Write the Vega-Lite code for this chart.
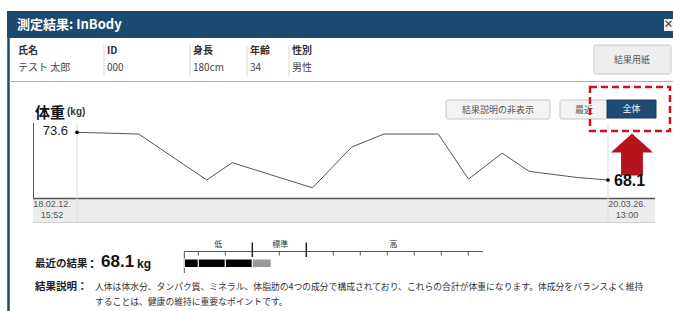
{
  "$schema": "https://vega.github.io/schema/vega-lite/v6.json",
  "width": 673,
  "height": 311,
  "autosize": {"type": "fit", "contains": "padding"},
  "padding": 0,
  "background": "#ffffff",
  "config": {"view": {"stroke": null}, "font": "Noto Sans CJK JP"},
  "resolve": {"scale": {"x": "independent", "y": "independent", "color": "independent"}},
  "layer": [
    {
      "data": {"values": [{}]},
      "layer": [
        {"mark": {"type": "rect", "fill": "#1c4a70"}, "encoding": {"x": {"value": 7}, "x2": {"value": 673}, "y": {"value": 11}, "y2": {"value": 38}}},
        {"mark": {"type": "text", "text": "測定結果: InBody", "align": "left", "baseline": "middle", "fontSize": 13, "fontWeight": "bold", "color": "#ffffff"}, "encoding": {"x": {"value": 17}, "y": {"value": 25}}},
        {"mark": {"type": "rect", "fill": "#f2f2f2"}, "encoding": {"x": {"value": 664}, "x2": {"value": 673}, "y": {"value": 19}, "y2": {"value": 31}}},
        {"mark": {"type": "text", "text": "×", "align": "center", "baseline": "middle", "fontSize": 10, "fontWeight": "bold", "color": "#333333"}, "encoding": {"x": {"value": 668.5}, "y": {"value": 25}}},
        {"mark": {"type": "rule", "color": "#1c4a70", "strokeWidth": 2.5}, "encoding": {"x": {"value": 8.5}, "y": {"value": 38}, "y2": {"value": 311}}},
        {"mark": {"type": "rule", "color": "#b0b0b0", "strokeWidth": 1}, "encoding": {"x": {"value": 9}, "x2": {"value": 673}, "y": {"value": 81.5}}},
        {"mark": {"type": "rule", "color": "#d8d8d8"}, "encoding": {"x": {"value": 104}, "y": {"value": 45}, "y2": {"value": 76}}},
        {"mark": {"type": "rule", "color": "#d8d8d8"}, "encoding": {"x": {"value": 190}, "y": {"value": 45}, "y2": {"value": 76}}},
        {"mark": {"type": "rule", "color": "#d8d8d8"}, "encoding": {"x": {"value": 247}, "y": {"value": 45}, "y2": {"value": 76}}},
        {"mark": {"type": "rule", "color": "#d8d8d8"}, "encoding": {"x": {"value": 289}, "y": {"value": 45}, "y2": {"value": 76}}},
        {"mark": {"type": "text", "text": "氏名", "align": "left", "baseline": "middle", "fontSize": 10, "fontWeight": "bold", "color": "#333333"}, "encoding": {"x": {"value": 18}, "y": {"value": 51}}},
        {"mark": {"type": "text", "text": "ID", "align": "left", "baseline": "middle", "fontSize": 10, "fontWeight": "bold", "color": "#333333"}, "encoding": {"x": {"value": 107}, "y": {"value": 51}}},
        {"mark": {"type": "text", "text": "身長", "align": "left", "baseline": "middle", "fontSize": 10, "fontWeight": "bold", "color": "#333333"}, "encoding": {"x": {"value": 193}, "y": {"value": 51}}},
        {"mark": {"type": "text", "text": "年齢", "align": "left", "baseline": "middle", "fontSize": 10, "fontWeight": "bold", "color": "#333333"}, "encoding": {"x": {"value": 250}, "y": {"value": 51}}},
        {"mark": {"type": "text", "text": "性別", "align": "left", "baseline": "middle", "fontSize": 10, "fontWeight": "bold", "color": "#333333"}, "encoding": {"x": {"value": 292}, "y": {"value": 51}}},
        {"mark": {"type": "text", "text": "テスト 太郎", "align": "left", "baseline": "middle", "fontSize": 10, "color": "#444444"}, "encoding": {"x": {"value": 18}, "y": {"value": 68}}},
        {"mark": {"type": "text", "text": "000", "align": "left", "baseline": "middle", "fontSize": 10, "color": "#444444"}, "encoding": {"x": {"value": 107}, "y": {"value": 68}}},
        {"mark": {"type": "text", "text": "180cm", "align": "left", "baseline": "middle", "fontSize": 10, "color": "#444444"}, "encoding": {"x": {"value": 193}, "y": {"value": 68}}},
        {"mark": {"type": "text", "text": "34", "align": "left", "baseline": "middle", "fontSize": 10, "color": "#444444"}, "encoding": {"x": {"value": 250}, "y": {"value": 68}}},
        {"mark": {"type": "text", "text": "男性", "align": "left", "baseline": "middle", "fontSize": 10, "color": "#444444"}, "encoding": {"x": {"value": 292}, "y": {"value": 68}}},
        {"mark": {"type": "rect", "fill": "#eeeeee", "stroke": "#c8c8c8", "strokeWidth": 1, "cornerRadius": 2}, "encoding": {"x": {"value": 594}, "x2": {"value": 671}, "y": {"value": 45}, "y2": {"value": 74}}},
        {"mark": {"type": "text", "text": "結果用紙", "align": "center", "baseline": "middle", "fontSize": 9, "color": "#555555"}, "encoding": {"x": {"value": 632}, "y": {"value": 60}}},
        {"mark": {"type": "text", "text": "体重", "align": "left", "baseline": "middle", "fontSize": 15, "fontWeight": "bold", "color": "#111111"}, "encoding": {"x": {"value": 35}, "y": {"value": 113}}},
        {"mark": {"type": "text", "text": "(kg)", "align": "left", "baseline": "middle", "fontSize": 10, "fontWeight": "bold", "color": "#333333", "font": "Liberation Sans"}, "encoding": {"x": {"value": 67}, "y": {"value": 112}}},
        {"mark": {"type": "rect", "fill": "#f3f3f3", "stroke": "#c6c6c6", "strokeWidth": 1, "cornerRadius": 2}, "encoding": {"x": {"value": 446}, "x2": {"value": 550}, "y": {"value": 100}, "y2": {"value": 119}}},
        {"mark": {"type": "text", "text": "結果説明の非表示", "align": "center", "baseline": "middle", "fontSize": 9, "color": "#555555"}, "encoding": {"x": {"value": 498}, "y": {"value": 110}}},
        {"mark": {"type": "rect", "fill": "#f3f3f3", "stroke": "#c6c6c6", "strokeWidth": 1, "cornerRadius": 2}, "encoding": {"x": {"value": 560}, "x2": {"value": 608}, "y": {"value": 100}, "y2": {"value": 119}}},
        {"mark": {"type": "text", "text": "最近", "align": "center", "baseline": "middle", "fontSize": 9, "color": "#555555"}, "encoding": {"x": {"value": 584}, "y": {"value": 110}}},
        {"mark": {"type": "rect", "fill": "#1f4b74", "stroke": "#163a5c", "strokeWidth": 1}, "encoding": {"x": {"value": 607}, "x2": {"value": 656}, "y": {"value": 100}, "y2": {"value": 118}}},
        {"mark": {"type": "text", "text": "全体", "align": "center", "baseline": "middle", "fontSize": 9, "color": "#ffffff"}, "encoding": {"x": {"value": 631.5}, "y": {"value": 109}}},
        {"mark": {"type": "rect", "filled": false, "stroke": "#c4161c", "strokeWidth": 2.5, "strokeDash": [7, 4]}, "encoding": {"x": {"value": 590}, "x2": {"value": 670}, "y": {"value": 87}, "y2": {"value": 131}}},
        {"mark": {"type": "point", "shape": "M0,-1L1,-0.1L0.52,-0.1L0.52,1L-0.52,1L-0.52,-0.1L-1,-0.1Z", "filled": true, "color": "#b5141c", "size": 1764, "opacity": 1, "strokeWidth": 0}, "encoding": {"x": {"value": 632}, "y": {"value": 154.5}}},
        {"mark": {"type": "rect", "fill": "#ececec"}, "encoding": {"x": {"value": 33}, "x2": {"value": 655}, "y": {"value": 199}, "y2": {"value": 222}}},
        {"mark": {"type": "rule", "color": "#cfcfcf"}, "encoding": {"x": {"value": 33}, "x2": {"value": 655}, "y": {"value": 222.5}}},
        {"mark": {"type": "rule", "color": "#555555"}, "encoding": {"x": {"value": 33.5}, "y": {"value": 123}, "y2": {"value": 199}}},
        {"mark": {"type": "rule", "color": "#555555", "strokeWidth": 1.5}, "encoding": {"x": {"value": 33}, "x2": {"value": 655}, "y": {"value": 198.5}}},
        {"mark": {"type": "text", "text": "最近の結果", "align": "left", "baseline": "middle", "fontSize": 10.5, "fontWeight": "bold", "color": "#222222"}, "encoding": {"x": {"value": 35}, "y": {"value": 264}}},
        {"mark": {"type": "text", "text": ":", "align": "center", "baseline": "middle", "fontSize": 14, "fontWeight": "bold", "color": "#222222", "font": "Liberation Sans"}, "encoding": {"x": {"value": 92}, "y": {"value": 264}}},
        {"mark": {"type": "text", "text": "68.1", "align": "left", "baseline": "middle", "fontSize": 17, "fontWeight": "bold", "color": "#111111", "font": "Liberation Sans"}, "encoding": {"x": {"value": 101}, "y": {"value": 262}}},
        {"mark": {"type": "text", "text": "kg", "align": "left", "baseline": "middle", "fontSize": 12, "fontWeight": "bold", "color": "#111111", "font": "Liberation Sans"}, "encoding": {"x": {"value": 137}, "y": {"value": 264}}},
        {"mark": {"type": "text", "text": "結果説明：", "align": "left", "baseline": "middle", "fontSize": 10.5, "fontWeight": "bold", "color": "#222222"}, "encoding": {"x": {"value": 35}, "y": {"value": 287}}},
        {"mark": {"type": "text", "text": ["人体は体水分、タンパク質、ミネラル、体脂肪の4つの成分で構成されており、これらの合計が体重になります。体成分をバランスよく維持", "することは、健康の維持に重要なポイントです。"], "align": "left", "baseline": "middle", "fontSize": 8.8, "lineHeight": 15, "color": "#333333"}, "encoding": {"x": {"value": 95}, "y": {"value": 287}}}
      ]
    },
    {
      "data": {
        "values": [
          {"date": "2018-02-12T15:52:00", "weight": 73.6},
          {"date": "2018-05-13T12:00:00", "weight": 73.4},
          {"date": "2018-08-20T12:00:00", "weight": 68.1},
          {"date": "2018-09-26T12:00:00", "weight": 70.1},
          {"date": "2019-01-21T12:00:00", "weight": 67.2},
          {"date": "2019-03-19T12:00:00", "weight": 71.9},
          {"date": "2019-05-05T12:00:00", "weight": 73.4},
          {"date": "2019-07-23T12:00:00", "weight": 73.4},
          {"date": "2019-09-05T12:00:00", "weight": 68.2},
          {"date": "2019-10-24T12:00:00", "weight": 71.2},
          {"date": "2019-12-02T12:00:00", "weight": 69.1},
          {"date": "2020-02-09T12:00:00", "weight": 68.4},
          {"date": "2020-03-26T13:00:00", "weight": 68.1}
        ],
        "format": {"parse": {"date": "date"}}
      },
      "transform": [
        {"joinaggregate": [{"op": "min", "field": "date", "as": "d0"}, {"op": "max", "field": "date", "as": "d1"}]}
      ],
      "encoding": {
        "x": {"field": "date", "type": "temporal", "axis": null, "scale": {"type": "time", "domain": [{"year": 2018, "month": 2, "date": 12, "hours": 15, "minutes": 52}, {"year": 2020, "month": 3, "date": 26, "hours": 13, "minutes": 0}], "range": [77, 608]}}
      },
      "layer": [
        {"transform": [{"filter": "time(datum.date) == time(datum.d0) || time(datum.date) == time(datum.d1)"}], "mark": {"type": "rule", "color": "#dddddd"}, "encoding": {"y": {"value": 123}, "y2": {"value": 222}}},
        {"mark": {"type": "line", "color": "#555555", "strokeWidth": 1}, "encoding": {"y": {"field": "weight", "type": "quantitative", "axis": null, "scale": {"domain": [68.1, 73.6], "range": [180, 132.3], "zero": false, "nice": false}}}},
        {"transform": [{"filter": "time(datum.date) == time(datum.d0) || time(datum.date) == time(datum.d1)"}], "mark": {"type": "point", "filled": true, "color": "#000000", "size": 14, "opacity": 1}, "encoding": {"y": {"field": "weight", "type": "quantitative", "axis": null, "scale": {"domain": [68.1, 73.6], "range": [180, 132.3], "zero": false, "nice": false}}}},
        {"transform": [{"filter": "time(datum.date) == time(datum.d0)"}], "mark": {"type": "text", "align": "right", "baseline": "middle", "dx": -9, "dy": -1, "fontSize": 13, "color": "#222222", "font": "Liberation Sans"}, "encoding": {"y": {"field": "weight", "type": "quantitative", "axis": null, "scale": {"domain": [68.1, 73.6], "range": [180, 132.3], "zero": false, "nice": false}}, "text": {"field": "weight", "type": "quantitative", "format": ".1f"}}},
        {"transform": [{"filter": "time(datum.date) == time(datum.d1)"}], "mark": {"type": "text", "align": "left", "baseline": "middle", "dx": 6, "dy": 1, "fontSize": 16, "fontWeight": "bold", "color": "#111111", "font": "Liberation Sans"}, "encoding": {"y": {"field": "weight", "type": "quantitative", "axis": null, "scale": {"domain": [68.1, 73.6], "range": [180, 132.3], "zero": false, "nice": false}}, "text": {"field": "weight", "type": "quantitative", "format": ".1f"}}},
        {"transform": [{"filter": "time(datum.date) == time(datum.d0)"}], "mark": {"type": "text", "align": "center", "baseline": "top", "dx": -25, "fontSize": 9, "lineHeight": 11, "lineBreak": "\n", "color": "#555555", "font": "Liberation Sans"}, "encoding": {"y": {"value": 200}, "text": {"field": "date", "type": "temporal", "format": "%y.%m.%d.\n%H:%M"}}},
        {"transform": [{"filter": "time(datum.date) == time(datum.d1)"}], "mark": {"type": "text", "align": "center", "baseline": "top", "dx": 19, "fontSize": 9, "lineHeight": 11, "lineBreak": "\n", "color": "#555555", "font": "Liberation Sans"}, "encoding": {"y": {"value": 200}, "text": {"field": "date", "type": "temporal", "format": "%y.%m.%d.\n%H:%M"}}}
      ]
    },
    {
      "layer": [
        {
          "data": {"values": [
            {"zone": "低", "from": 47.2, "to": 85, "center": 66},
            {"zone": "標準", "from": 85, "to": 115, "center": 100.5},
            {"zone": "高", "from": 115, "to": 213.2, "center": 163.5}
          ]},
          "layer": [
            {"mark": {"type": "rule", "color": "#555555"}, "encoding": {"x": {"field": "from", "type": "quantitative", "axis": null, "scale": {"domain": [47.2, 213.2], "range": [184.3, 483], "zero": false, "nice": false}}, "x2": {"field": "to"}, "y": {"value": 251.5}}},
            {"mark": {"type": "text", "align": "center", "baseline": "middle", "fontSize": 8, "color": "#333333"}, "encoding": {"x": {"field": "center", "type": "quantitative", "axis": null, "scale": {"domain": [47.2, 213.2], "range": [184.3, 483], "zero": false, "nice": false}}, "y": {"value": 245}, "text": {"field": "zone"}}},
            {"transform": [{"filter": "datum.zone == '低'"}], "mark": {"type": "rule", "color": "#555555"}, "encoding": {"x": {"field": "from", "type": "quantitative", "axis": null, "scale": {"domain": [47.2, 213.2], "range": [184.3, 483], "zero": false, "nice": false}}, "y": {"value": 251.5}, "y2": {"value": 273}}}
          ]
        },
        {
          "data": {"values": [
            {"pct": 55, "major": false}, {"pct": 70, "major": false}, {"pct": 85, "major": true},
            {"pct": 100, "major": false}, {"pct": 115, "major": true}, {"pct": 130, "major": false},
            {"pct": 145, "major": false}, {"pct": 160, "major": false}, {"pct": 175, "major": false},
            {"pct": 190, "major": false}, {"pct": 205, "major": false}
          ]},
          "layer": [
            {"transform": [{"filter": "!datum.major"}], "mark": {"type": "rule", "color": "#555555"}, "encoding": {"x": {"field": "pct", "type": "quantitative", "axis": null, "scale": {"domain": [47.2, 213.2], "range": [184.3, 483], "zero": false, "nice": false}}, "y": {"value": 251.5}, "y2": {"value": 255.5}}},
            {"transform": [{"filter": "datum.major"}], "mark": {"type": "rule", "color": "#222222", "strokeWidth": 1.5}, "encoding": {"x": {"field": "pct", "type": "quantitative", "axis": null, "scale": {"domain": [47.2, 213.2], "range": [184.3, 483], "zero": false, "nice": false}}, "y": {"value": 242.5}, "y2": {"value": 257}}}
          ]
        },
        {
          "data": {"values": [
            {"from": 47.2, "to": 55, "zone": "低"},
            {"from": 55, "to": 70, "zone": "低"},
            {"from": 70, "to": 85, "zone": "低"},
            {"from": 85, "to": 95.5, "zone": "標準"}
          ]},
          "mark": {"type": "rect", "stroke": "#ffffff", "strokeWidth": 1},
          "encoding": {
            "x": {"field": "from", "type": "quantitative", "axis": null, "scale": {"domain": [47.2, 213.2], "range": [184.3, 483], "zero": false, "nice": false}},
            "x2": {"field": "to"},
            "y": {"value": 259},
            "y2": {"value": 267.5},
            "color": {"field": "zone", "type": "nominal", "legend": null, "scale": {"domain": ["低", "標準"], "range": ["#000000", "#999999"]}}
          }
        }
      ]
    }
  ]
}
